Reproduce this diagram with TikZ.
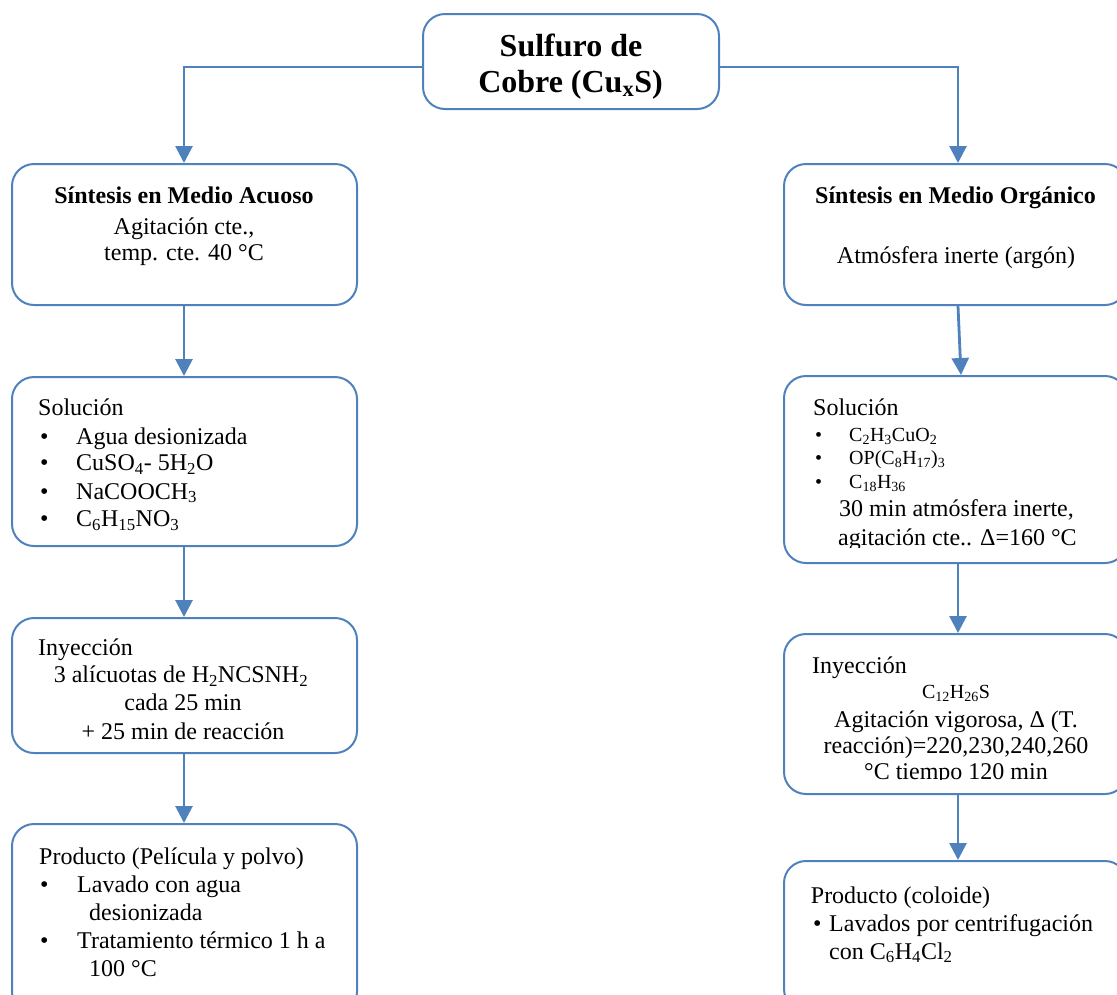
\documentclass[tikz,border=0pt]{standalone}
\usepackage{fontspec}
\setmainfont{Liberation Serif}
\usetikzlibrary{arrows.meta}
\definecolor{boxblue}{HTML}{4F81BD}
\tikzset{
  stepbox/.style={draw=boxblue, line width=2pt, rounded corners=22pt, inner sep=0pt, anchor=north west},
  flow/.style={draw=boxblue, line width=2.8pt, -{Triangle[width=17pt,length=17pt]}},
  txt/.style={inner sep=0pt, anchor=base west, font=\fontsize{24}{27.6}\selectfont},
  ctxt/.style={txt, anchor=base},
  stxt/.style={inner sep=0pt, anchor=base west, font=\fontsize{20}{23}\selectfont},
  cstxt/.style={stxt, anchor=base},
  head/.style={inner sep=0pt, anchor=base, font=\fontsize{24}{27.6}\selectfont\bfseries},
  ttl/.style={inner sep=0pt, anchor=base, font=\fontsize{32}{36.8}\selectfont\bfseries},
}
\begin{document}
\begin{tikzpicture}[x=1pt,y=-1pt]
\clip (0,0) rectangle (1117,994);

% boxes
\node[stepbox, minimum width=296pt, minimum height=95pt]  (top) at (422,13) {};
\node[stepbox, minimum width=345pt, minimum height=141pt] (L1) at (11,163) {};
\node[stepbox, minimum width=345pt, minimum height=169pt] (L2) at (11,376) {};
\node[stepbox, minimum width=345pt, minimum height=135pt] (L3) at (11,617) {};
\node[stepbox, minimum width=345pt, minimum height=190pt] (L4) at (11,823) {};
\node[stepbox, minimum width=343pt, minimum height=141pt] (R1) at (783,163) {};
\node[stepbox, minimum width=343pt, minimum height=187pt] (R2) at (783,375) {};
\node[stepbox, minimum width=343pt, minimum height=160pt] (R3) at (783,633) {};
\node[stepbox, minimum width=343pt, minimum height=150pt] (R4) at (783,860) {};

% connectors
\coordinate (lx) at (184,0);
\coordinate (rx) at (958,0);
\draw[flow] ([yshift=-5.5pt]top.west) -| (lx |- L1.north);
\draw[flow] ([yshift=-5.5pt]top.east) -| (rx |- R1.north);
\draw[flow] (lx |- L1.south) -- (lx |- L2.north);
\draw[flow] (lx |- L2.south) -- (lx |- L3.north);
\draw[flow] (lx |- L3.south) -- (lx |- L4.north);
\draw[flow] ([xshift=2.5pt]R1.south) -- ([xshift=5.5pt]R2.north);
\draw[flow] (rx |- R2.south) -- (rx |- R3.north);
\draw[flow] (rx |- R3.south) -- (rx |- R4.north);

% title
\node[ttl] (t1) at (571,56.7) {Sulfuro de};
\node[ttl] (t2) at (570.5,92.7) {Cobre (Cu\textsubscript{x}S)};

% aqueous route
\node[head] (l1a) at (184,203) {Síntesis en Medio Acuoso};
\node[ctxt] (l1b) at (184,234) {Agitación cte.,};
\node[ctxt] (l1c) at (184,260.7) {temp. cte. 40 °C};

\node[txt] (l2a) at (38,415.7) {Solución};
\node[txt] (l2b1) at (40,444) {•};   \node[txt] (l2b) at (76,444) {Agua desionizada};
\node[txt] (l2c1) at (40,470.7) {•}; \node[txt] (l2c) at (76,470.7) {CuSO\textsubscript{4}- 5H\textsubscript{2}O};
\node[txt] (l2d1) at (40,499) {•};   \node[txt] (l2d) at (76,499) {NaCOOCH\textsubscript{3}};
\node[txt] (l2e1) at (40,526.7) {•}; \node[txt] (l2e) at (76,526.7) {C\textsubscript{6}H\textsubscript{15}NO\textsubscript{3}};

\begin{scope}
\clip (L3.north west) rectangle ([yshift=15pt]L3.south east);
\node[txt] (l3a) at (38,655) {Inyección};
\node[ctxt] (l3b) at (181,682.7) {3 alícuotas de H\textsubscript{2}NCSNH\textsubscript{2}};
\node[ctxt] (l3c) at (183,710.7) {cada 25 min};
\node[ctxt] (l3d) at (183,739.5) {+ 25 min de reacción};
\end{scope}

\node[txt] (l4a) at (39,864) {Producto (Película y polvo)};
\node[txt] (l4b1) at (40,892.7) {•}; \node[txt] (l4b) at (77,892.7) {Lavado con agua};
\node[txt] (l4c) at (89,920) {desionizada};
\node[txt] (l4d1) at (40,948) {•};   \node[txt] (l4d) at (77,948) {Tratamiento térmico 1 h a};
\node[txt] (l4e) at (89,976) {100 °C};

% organic route
\node[head] (r1a) at (955.5,203) {Síntesis en Medio Orgánico};
\node[ctxt] (r1b) at (956,263) {Atmósfera inerte (argón)};

\begin{scope}
\clip (R2.north west) rectangle ([yshift=17pt]R2.south east);
\node[txt] (r2a) at (813,415.7) {Solución};
\node[stxt] (r2b1) at (815,441.7) {•}; \node[stxt] (r2b) at (849,441.7) {C\textsubscript{2}H\textsubscript{3}CuO\textsubscript{2}};
\node[stxt] (r2c1) at (815,464) {•};   \node[stxt] (r2c) at (849,464) {OP(C\textsubscript{8}H\textsubscript{17})\textsubscript{3}};
\node[stxt] (r2d1) at (815,488) {•};   \node[stxt] (r2d) at (849,488) {C\textsubscript{18}H\textsubscript{36}};
\node[txt] (r2e) at (839,516.7) {30 min atmósfera inerte,};
\node[txt] (r2f) at (838,545) {agitación cte.. Δ=160 °C};
\end{scope}

\begin{scope}
\clip (R3.north west) rectangle ([yshift=16pt]R3.south east);
\node[txt] (r3a) at (812,673) {Inyección};
\node[cstxt] (r3b) at (956,698) {C\textsubscript{12}H\textsubscript{26}S};
\node[ctxt] (r3c) at (956,727) {Agitación vigorosa, Δ (T.};
\node[ctxt] (r3d) at (956,753) {reacción)=220,230,240,260};
\node[ctxt] (r3e) at (956,779.5) {°C tiempo 120 min};
\end{scope}

\node[txt] (r4a) at (810.7,903) {Producto (coloide)};
\node[txt] (r4b1) at (813,931.7) {•}; \node[txt] (r4b) at (829,931.7) {Lavados por centrifugación};
\node[txt] (r4c) at (829,959) {con C\textsubscript{6}H\textsubscript{4}Cl\textsubscript{2}};
\end{tikzpicture}
\end{document}
